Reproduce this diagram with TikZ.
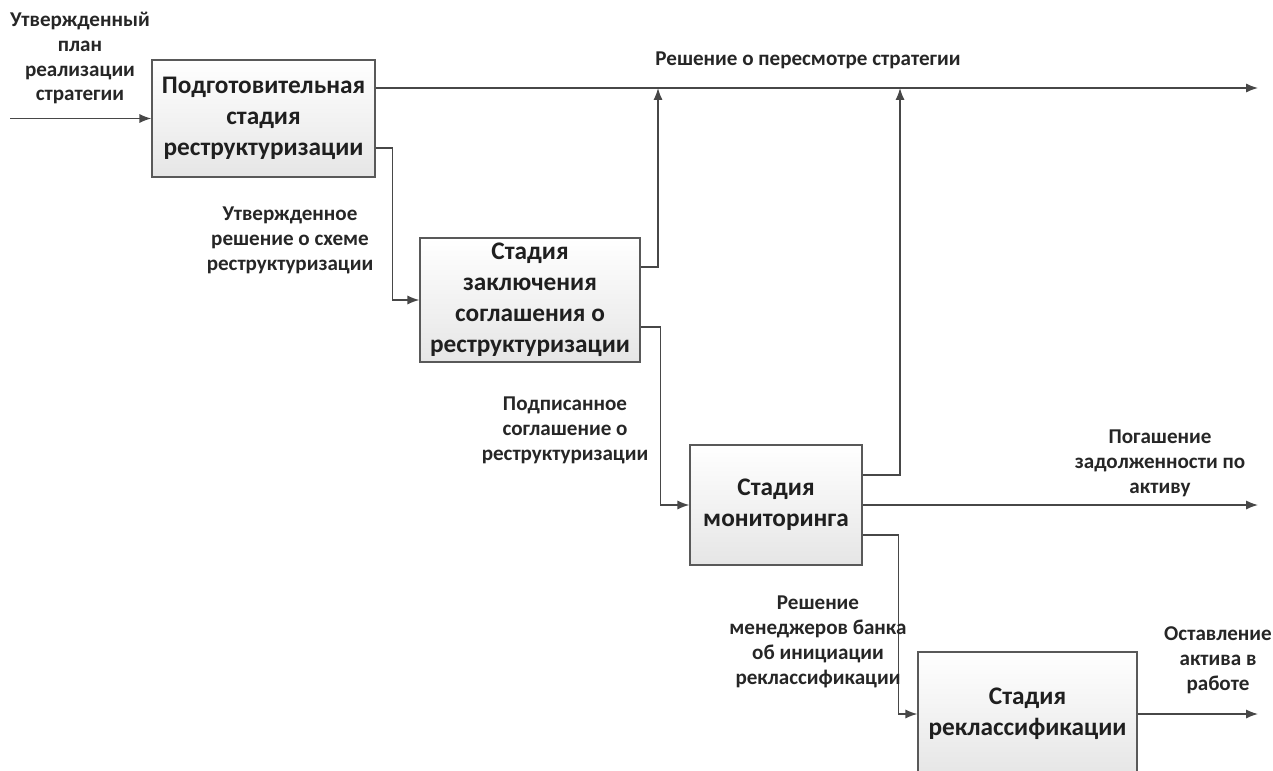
\documentclass[tikz,border=0pt]{standalone}
\usepackage{fontspec}
\setmainfont{Carlito}
\usetikzlibrary{arrows.meta}
\usetikzlibrary{calc}

\begin{document}
\begin{tikzpicture}[x=0.02cm, y=-0.02cm, >={Latex[length=6.8pt,width=5.2pt]},
stage/.style={draw=black!65, line width=0.7pt, top color=white, bottom color=black!10,
  inner sep=0, align=center, text=black!88, font=\fontsize{14.4}{17.6}\selectfont\bfseries},
flow/.style={->, draw=black!72, line width=0.85pt},
felirat/.style={align=center, inner sep=0, text=black!85, font=\fontsize{12}{14.2}\selectfont\bfseries}]
\useasboundingbox (0,0) rectangle (1273,770);
\clip (0,0) rectangle (1273,770);
% stages
\node[stage, minimum width=223*0.02cm, minimum height=117*0.02cm] (prep) at (263.5,118.5)
  {Подготовительная\\стадия\\реструктуризации};
\node[stage, minimum width=220*0.02cm, minimum height=124*0.02cm] (agree) at (530,300)
  {Стадия\\заключения\\соглашения о\\реструктуризации};
\node[stage, minimum width=172*0.02cm, minimum height=120*0.02cm] (mon) at (776,505)
  {Стадия\\мониторинга};
\node[stage, minimum width=219*0.02cm, minimum height=124*0.02cm] (recl) at (1027.5,714)
  {Стадия\\реклассификации};
% free ends
\coordinate (in) at (10,118.5);
\coordinate (outA) at (1258,88);
\coordinate (outB) at (1258,505);
\coordinate (outC) at (1258,714);
\coordinate (j1) at (658,88);
\coordinate (j2) at (900,88);
% connectors
\draw[flow] (in) -- (prep.west);
\draw[flow] ($(prep.east)+(0,-30.5)$) -- (outA);
\draw[flow] ($(prep.east)+(0,29.5)$) -- ++(17,0) |- (agree.west);
\draw[flow] ($(agree.east)+(0,-33)$) -| (j1);
\draw[flow] ($(agree.east)+(0,27)$) -- ++(20,0) |- (mon.west);
\draw[flow] ($(mon.east)+(0,-30)$) -| (j2);
\draw[flow] (mon.east) -- (outB);
\draw[flow] ($(mon.east)+(0,30)$) -- ++(36,0) |- (recl.west);
\draw[flow] (recl.east) -- (outC);
% labels
\node[felirat] (lplan) at (80,58) {Утвержденный\\план\\реализации\\стратегии};
\node[felirat] (lrev) at (808,60) {Решение о пересмотре стратегии};
\node[felirat] (lscheme) at (290,240) {Утвержденное\\решение о схеме\\реструктуризации};
\node[felirat] (lsigned) at (565,430) {Подписанное\\соглашение о\\реструктуризации};
\node[felirat] (lrepay) at (1160,463) {Погашение\\задолженности по\\активу};
\node[felirat] (lmgr) at (818,642) {Решение\\менеджеров банка\\об инициации\\реклассификации};
\node[felirat] (lkeep) at (1218,660) {Оставление\\актива в\\работе};
\end{tikzpicture}
\end{document}
